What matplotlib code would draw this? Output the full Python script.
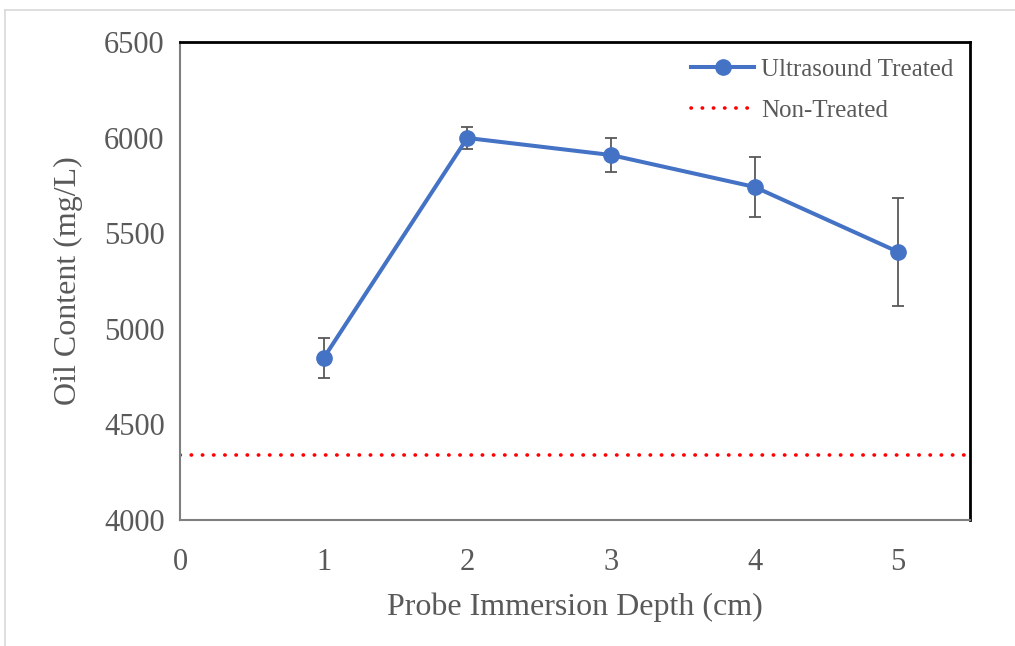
import matplotlib.pyplot as plt
from matplotlib.lines import Line2D

plt.rcParams["font.family"] = ["Liberation Serif", "DejaVu Serif"]

depth = [1, 2, 3, 4, 5]
oil = [4847, 5998, 5909, 5742, 5402]
oil_err = [105, 60, 88, 157, 283]
non_treated = 4340

xticks = [0, 1, 2, 3, 4, 5]
yticks = [4000, 4500, 5000, 5500, 6000, 6500]

text_col = "#595959"

fig = plt.figure(figsize=(10.15, 6.46), dpi=100)
ax = fig.add_axes([180 / 1015, 1 - 520 / 646, 790 / 1015, 478 / 646])

ax.axhline(non_treated, color="red", lw=2.6, linestyle=(0, (0.1, 3.0)),
           dash_capstyle="round", label="Non-Treated", zorder=2)
ax.errorbar(depth, oil, yerr=oil_err, fmt="none", ecolor=text_col,
            elinewidth=1.3, capsize=4.3, capthick=1.3, zorder=3)
ax.plot(depth, oil, "-o", color="#4472C4", lw=2.9, ms=11,
        label="Ultrasound Treated", zorder=4)

ax.set_xlim(0, 5.5)
ax.set_ylim(4000, 6500)
ax.set_xticks(xticks)
ax.set_yticks(yticks)
ax.tick_params(length=0, labelsize=22, labelcolor=text_col)
ax.tick_params(axis="x", pad=20)
ax.tick_params(axis="y", pad=11)

for s in ["left", "bottom"]:
    ax.spines[s].set_color("#7f7f7f")
    ax.spines[s].set_linewidth(1.5)
for s in ["top", "right"]:
    ax.spines[s].set_color("black")
    ax.spines[s].set_linewidth(2)

ax.set_xlabel("Probe Immersion Depth (cm)", fontsize=23, color=text_col, labelpad=11)
ax.set_ylabel("Oil Content (mg/L)", fontsize=23, color=text_col, labelpad=15)

h, l = ax.get_legend_handles_labels()
ax.legend(h[::-1], l[::-1], loc="upper right", frameon=False, fontsize=18,
          labelcolor=text_col, handlelength=2.5, handletextpad=0.3,
          labelspacing=0.75, borderaxespad=0.25)

# light frame around the chart area
fig.add_artist(Line2D([5 / 1015, 1], [1 - 10 / 646, 1 - 10 / 646],
                      color="#d9d9d9", lw=1.2, transform=fig.transFigure))
fig.add_artist(Line2D([5 / 1015, 5 / 1015], [0, 1 - 10 / 646],
                      color="#d9d9d9", lw=1.2, transform=fig.transFigure))

fig.savefig("out.png", dpi=100)
